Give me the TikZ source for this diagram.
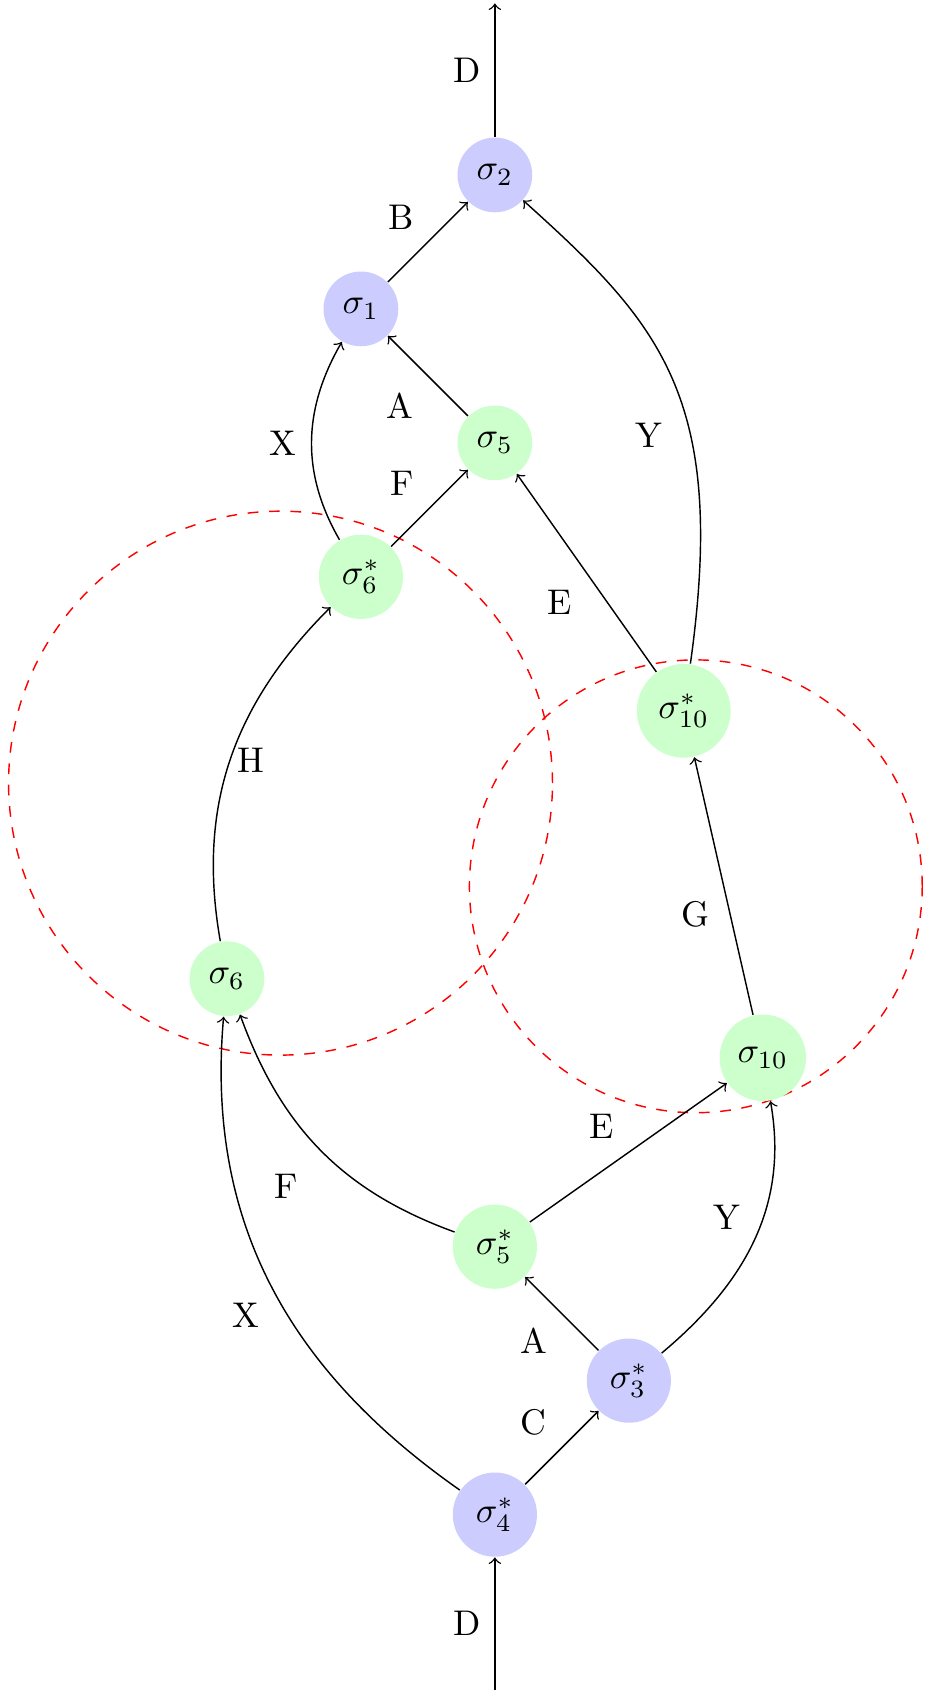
\documentclass[tikz,border=0pt]{standalone}
\begin{document}
\begin{tikzpicture}[x=1.32cm,y=1.32cm,
  bnode/.style={circle,fill=blue!20},
  gnode/.style={circle,fill=green!20},
  edge/.style={->},
  zone/.style={red,dashed}]
\useasboundingbox (-3.694,-1.339) rectangle (3.210,11.306);

% the two regions
\draw[zone] (-1.6,5.46) circle (2.03);
\draw[zone] (1.5,4.69) circle (1.69);

\node[bnode] (s2) at (0,10) {$\sigma_2$};
\node[bnode] (s1) at (-1,9) {$\sigma_1$};
\node[gnode] (s5) at (0,8) {$\sigma_5$};
\node[gnode] (s6s) at (-1,7) {$\sigma_6^*$};
\node[gnode] (s10s) at (1.41,6) {$\sigma_{10}^*$};
\node[gnode] (s6) at (-2,4) {$\sigma_6$};
\node[gnode] (s10) at (2,3.41) {$\sigma_{10}$};
\node[gnode] (s5s) at (0,2) {$\sigma_5^*$};
\node[bnode] (s3s) at (1,1) {$\sigma_3^*$};
\node[bnode] (s4s) at (0,0) {$\sigma_4^*$};

\coordinate (top) at (0,11.28);
\coordinate (bot) at (0,-1.31);

\draw[edge] (s2) -- (top);
\draw[edge] (s1) -- (s2);
\draw[edge] (s5) -- (s1);
\draw[edge] (s6s) to[out=120,in=-120] (s1);
\draw[edge] (s6s) -- (s5);
\draw[edge] (s10s) -- (s5);
\draw[edge] (s10s) to[out=82,in=-42,out looseness=1.4,in looseness=0.95] (s2);
\draw[edge] (s6) to[out=100,in=-135] (s6s);
\draw[edge] (s10) -- (s10s);
\draw[edge] (s5s) to[out=160,in=-70] (s6);
\draw[edge] (s5s) -- (s10);
\draw[edge] (s3s) -- (s5s);
\draw[edge] (s3s) to[out=40,in=-80] (s10);
\draw[edge] (s4s) -- (s3s);
\draw[edge] (s4s) to[out=145,in=-95] (s6);
\draw[edge] (bot) -- (s4s);

% labels
\node (lD1) at (-0.21,10.78) {D};
\node (lB) at (-0.70,9.68) {B};
\node (lA1) at (-0.71,8.28) {A};
\node (lX1) at (-1.58,8.00) {X};
\node (lF1) at (-0.69,7.70) {F};
\node (lE1) at (0.48,6.81) {E};
\node (lY1) at (1.15,8.06) {Y};
\node (lH) at (-1.82,5.63) {H};
\node (lG) at (1.50,4.48) {G};
\node (lE2) at (0.80,2.90) {E};
\node (lF2) at (-1.56,2.45) {F};
\node (lY2) at (1.73,2.22) {Y};
\node (lX2) at (-1.86,1.49) {X};
\node (lA2) at (0.29,1.30) {A};
\node (lC) at (0.29,0.69) {C};
\node (lD2) at (-0.21,-0.81) {D};
\end{tikzpicture}
\end{document}
